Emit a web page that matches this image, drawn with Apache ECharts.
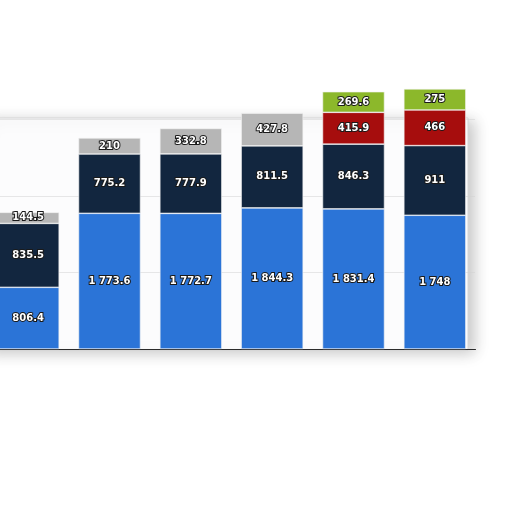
<!DOCTYPE html>
<html>
<head>
<meta charset="utf-8">
<script src="https://cdn.jsdelivr.net/npm/echarts@6/dist/echarts.min.js"></script>
<style>
  html, body { margin: 0; padding: 0; background: #fff; overflow: hidden; }
  /* the first bar is cut by the left edge, so the chart starts off-page */
  #chart { position: absolute; left: -13px; top: 0; width: 525px; height: 512px; }
</style>
</head>
<body>
<div id="chart"></div>
<script>
// Stacked bars, values (bottom to top)
const categories = ['A', 'B', 'C', 'D', 'E', 'F'];
const blueValues = [806.4, 1773.6, 1772.7, 1844.3, 1831.4, 1748];
const navyValues = [835.5, 775.2, 777.9, 811.5, 846.3, 911];
const grayValues = [144.5, 210, 332.8, 427.8, null, null];
const redValues = [null, null, null, null, 415.9, 466];
const greenValues = [null, null, null, null, 269.6, 275];

// "1773.6" -> "1 773.6"
function fmt(v) {
    const parts = String(v).split('.');
    parts[0] = parts[0].replace(/\B(?=(\d{3})+(?!\d))/g, ' ');
    return parts.join('.');
}

const labelStyle = {
    show: true,
    position: 'inside',
    color: '#fff',
    fontFamily: 'DejaVu Sans',
    fontWeight: 'bold',
    fontSize: 10,
    textBorderColor: '#1a1a1a',
    textBorderWidth: 2,
    formatter: p => fmt(p.value)
};

function makeSeries(name, values, color) {
    return {
        name: name,
        type: 'bar',
        stack: 'total',
        barWidth: 62,
        clip: false,
        data: values,
        itemStyle: { color: color, borderColor: '#f4f4f4', borderWidth: 0.6 },
        label: labelStyle
    };
}

const chart = echarts.init(document.getElementById('chart'));
chart.setOption({
    animation: false,
    backgroundColor: '#fff',
    graphic: [{
        type: 'rect',
        z: -10,
        silent: true,
        shape: { x: -5, y: 118, width: 486, height: 232 },
        style: {
            fill: '#fcfcfd',
            stroke: '#d6d6d6',
            lineWidth: 1,
            shadowBlur: 14,
            shadowOffsetX: 6,
            shadowOffsetY: 3,
            shadowColor: 'rgba(0,0,0,0.22)'
        }
    }],
    grid: { left: 0.5, right: 36.5, top: 119.5, bottom: 163 },
    xAxis: {
        type: 'category',
        data: categories,
        axisLine: { lineStyle: { color: '#2b2b2b', width: 1 } },
        axisTick: { show: false },
        axisLabel: { show: false }
    },
    yAxis: {
        type: 'value',
        min: 0,
        max: 3000,
        interval: 1000,
        axisLabel: { show: false },
        axisLine: { show: false },
        axisTick: { show: false },
        splitLine: { lineStyle: { color: '#d0d0d0', type: 'dotted' } }
    },
    series: [
        makeSeries('blue', blueValues, '#2b74d7'),
        makeSeries('navy', navyValues, '#12263f'),
        makeSeries('gray', grayValues, '#b6b6b6'),
        makeSeries('red', redValues, '#a60d0d'),
        makeSeries('green', greenValues, '#8cb82b')
    ]
});
</script>
</body>
</html>
